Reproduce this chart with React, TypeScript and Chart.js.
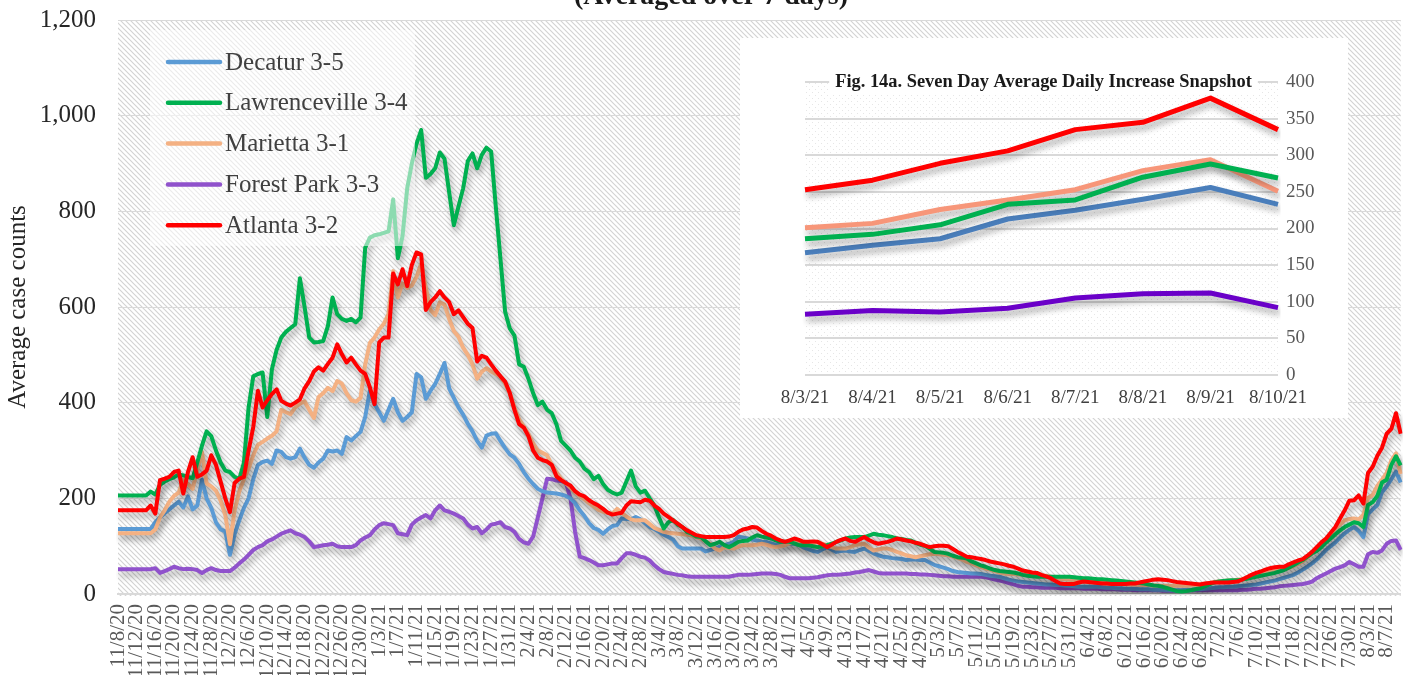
import React, { useEffect, useRef } from "react";
import { Chart, registerables } from "chart.js";

Chart.register(...registerables);

const FONT = "'Liberation Serif', 'Times New Roman', serif";

// ---------- categories ----------
const START_YEAR = 2020;
const START_MONTH = 10; // November (0-based)
const START_DAY = 8;
const DAY_COUNT = 276;

function buildDates(): string[] {
  const out: string[] = [];
  for (let i = 0; i < DAY_COUNT; i++) {
    const d = new Date(Date.UTC(START_YEAR, START_MONTH, START_DAY + i));
    out.push(`${d.getUTCMonth() + 1}/${d.getUTCDate()}/${String(d.getUTCFullYear()).slice(2)}`);
  }
  return out;
}
const DATES = buildDates();

const SERIES_NAMES = ["Decatur 3-5", "Lawrenceville 3-4", "Marietta 3-1", "Forest Park 3-3", "Atlanta 3-2"];

// ---------- main series (7-day averages) ----------
const DECATUR = [
  136, 136, 136, 136, 136, 136, 136, 136, 150, 160,
  169, 177, 185, 193, 181, 204, 177, 185, 239, 200,
  180, 150, 135, 131, 82, 125, 154, 180, 200, 240,
  270, 276, 279, 272, 300, 297, 286, 283, 286, 304,
  285, 270, 264, 275, 283, 300, 298, 300, 293, 328,
  321, 330, 339, 370, 425, 397, 380, 362, 385, 408,
  380, 362, 370, 380, 460, 453, 408, 425, 439, 460,
  483, 430, 410, 390, 375, 356, 340, 320, 306, 331,
  335, 336, 320, 305, 292, 285, 272, 255, 241, 230,
  220, 215, 212, 211, 210, 208, 205, 200, 190, 175,
  163, 148, 138, 134, 126, 135, 142, 144, 158, 157,
  156, 161, 156, 148, 140, 136, 130, 124, 119, 114,
  100, 95, 95, 95, 95, 95, 89, 92, 95, 99,
  102, 105, 109, 120, 118, 116, 114, 112, 110, 109,
  106, 103, 104, 105, 105, 105, 103, 97, 94, 90,
  88, 93, 98, 93, 88, 90, 91, 89, 88, 92,
  95, 90, 85, 81, 78, 77, 75, 74, 73, 71,
  72, 72, 71, 71, 66, 61, 58, 55, 52, 48,
  46, 45, 44, 43, 43, 42, 40, 38, 37, 36,
  33, 30, 28, 26, 25, 24, 23, 22, 21, 20,
  20, 19, 19, 18, 17, 16, 15, 15, 15, 15,
  15, 14, 13, 13, 12, 12, 11, 11, 11, 10,
  10, 10, 9, 9, 9, 8, 8, 8, 8, 9,
  9, 10, 10, 11, 12, 13, 14, 14, 15, 15,
  16, 17, 18, 19, 20, 22, 24, 26, 28, 31,
  34, 37, 40, 45, 51, 57, 64, 72, 82, 92,
  100, 108, 118, 127, 134, 140, 132, 119, 167, 177,
  186, 213, 225, 240, 256, 233,
];

const LAWRENCEVILLE = [
  206, 206, 206, 206, 206, 206, 206, 214, 208, 228,
  235, 240, 244, 250, 248, 245, 242, 275, 310, 340,
  330, 300, 275, 258, 255, 245, 240, 275, 390, 455,
  460, 463, 370, 470, 510, 536, 548, 556, 564, 660,
  600, 536, 526, 527, 529, 560, 620, 585, 575, 571,
  575, 568, 578, 724, 745, 750, 752, 755, 758, 825,
  702, 748, 848, 900, 941, 970, 870, 878, 890, 923,
  910, 840, 771, 810, 848, 905, 921, 890, 918, 933,
  925, 810, 700, 590, 555, 540, 480, 475, 450, 420,
  395, 402, 385, 378, 355, 320, 310, 300, 285, 277,
  262, 255, 240, 247, 230, 218, 212, 208, 212, 235,
  258, 225, 212, 216, 200, 185, 160, 137, 150, 155,
  145, 140, 130, 126, 120, 119, 110, 102, 105, 109,
  102, 98, 103, 109, 111, 112, 118, 123, 120, 118,
  116, 112, 109, 109, 109, 106, 102, 102, 102, 100,
  98, 100, 102, 105, 109, 112, 116, 118, 119, 119,
  119, 122, 126, 124, 123, 121, 119, 116, 115, 113,
  112, 107, 103, 101, 95, 88, 87, 86, 84, 80,
  77, 76, 74, 68, 64, 60, 57, 53, 50, 48,
  47, 46, 45, 43, 40, 38, 37, 36, 36, 36,
  36, 36, 36, 36, 36, 35, 34, 33, 33, 32,
  31, 31, 30, 29, 28, 27, 26, 25, 24, 23,
  22, 20, 18, 17, 15, 12, 9, 6, 5, 6,
  8, 10, 12, 16, 20, 24, 26, 27, 28, 29,
  29, 30, 32, 34, 36, 38, 40, 42, 44, 47,
  50, 55, 60, 66, 71, 78, 85, 90, 98, 108,
  116, 125, 133, 140, 145, 150, 148, 140, 186, 192,
  205, 233, 239, 270, 288, 269,
];

const MARIETTA = [
  127, 127, 127, 127, 127, 127, 127, 127, 135, 160,
  175, 193, 205, 212, 239, 230, 220, 260, 297, 231,
  225, 216, 195, 165, 104, 175, 215, 240, 262, 290,
  312, 318, 325, 331, 340, 385, 380, 376, 390, 398,
  403, 385, 368, 412, 420, 431, 424, 445, 440, 420,
  405, 402, 410, 480, 525, 536, 553, 565, 585, 675,
  620, 649, 640, 645, 663, 690, 640, 594, 583, 610,
  605, 575, 550, 538, 515, 500, 480, 450, 465, 472,
  465, 460, 455, 440, 420, 390, 365, 350, 335, 315,
  300, 295, 290, 270, 255, 241, 232, 222, 213, 205,
  198, 190, 183, 176, 172, 170, 168, 178, 170, 162,
  156, 154, 154, 154, 146, 138, 134, 130, 128, 127,
  126, 125, 124, 122, 119, 116, 110, 105, 95, 91,
  98, 96, 95, 99, 102, 102, 102, 103, 105, 103,
  100, 98, 100, 102, 106, 109, 106, 103, 102, 106,
  109, 105, 102, 98, 95, 95, 95, 98, 102, 104,
  105, 97, 91, 93, 95, 95, 92, 88, 85, 81,
  79, 77, 79, 81, 83, 84, 83, 82, 81, 78,
  75, 72, 67, 64, 60, 56, 53, 51, 48, 45,
  43, 42, 42, 41, 40, 40, 39, 39, 38, 38,
  36, 34, 32, 31, 30, 29, 28, 27, 26, 25,
  24, 23, 22, 22, 21, 21, 21, 20, 20, 19,
  19, 19, 18, 18, 17, 17, 17, 17, 17, 17,
  18, 19, 20, 21, 23, 25, 26, 27, 28, 29,
  30, 31, 32, 35, 39, 42, 44, 46, 48, 50,
  51, 54, 58, 63, 68, 76, 85, 93, 103, 114,
  125, 136, 145, 154, 157, 158, 156, 165, 201, 207,
  226, 239, 253, 279, 294, 251,
];

const FOREST_PARK = [
  52, 52, 52, 52, 52, 52, 52, 52, 54, 44,
  48, 52, 57, 54, 52, 53, 52, 50, 44, 50,
  54, 50, 48, 48, 48, 55, 64, 72, 82, 92,
  98, 102, 110, 114, 120, 126, 130, 133, 127, 124,
  119, 110, 98, 100, 102, 103, 105, 100, 98, 98,
  98, 102, 112, 118, 123, 135, 144, 148, 146, 144,
  127, 125, 123, 145, 154, 160, 165, 158, 175, 185,
  175, 172, 168, 163, 158, 145, 137, 140, 127, 135,
  145, 147, 150, 140, 137, 130, 115, 108, 105, 120,
  160, 200, 241, 240, 237, 236, 234, 200, 130, 78,
  75, 71, 66, 60, 60, 62, 64, 64, 75, 85,
  85, 82, 78, 76, 70, 60, 52, 46, 44, 42,
  40, 39, 37, 36, 36, 36, 36, 36, 36, 36,
  36, 36, 38, 40, 40, 40, 41, 42, 43, 43,
  43, 42, 40, 36, 33, 33, 33, 33, 33, 34,
  35, 37, 39, 40, 40, 41, 42, 43, 45, 46,
  48, 50, 47, 44, 43, 43, 43, 43, 43, 43,
  42, 42, 41, 41, 40, 39, 38, 37, 37, 36,
  36, 36, 36, 36, 36, 36, 35, 33, 30, 28,
  26, 23, 20, 17, 15, 15, 14, 14, 13, 13,
  13, 13, 12, 12, 12, 12, 12, 11, 11, 11,
  11, 10, 10, 10, 10, 9, 9, 9, 8, 8,
  8, 8, 8, 8, 7, 7, 7, 7, 7, 7,
  8, 8, 8, 8, 8, 8, 8, 8, 8, 8,
  8, 9, 9, 10, 11, 11, 12, 13, 14, 16,
  17, 18, 19, 20, 21, 23, 26, 33, 38, 43,
  48, 53, 56, 60, 67, 62, 57, 57, 83, 88,
  86, 91, 105, 111, 112, 92,
];

const ATLANTA = [
  175, 175, 175, 175, 175, 175, 175, 185, 168, 238,
  241, 245, 255, 258, 210, 255, 286, 245, 250, 258,
  290, 270, 235, 200, 171, 232, 241, 245, 300, 349,
  425, 390, 405, 418, 428, 404, 398, 394, 400, 407,
  430, 445, 465, 474, 467, 481, 494, 522, 501, 484,
  494, 480, 467, 460, 432, 397, 526, 536, 536, 670,
  647, 679, 644, 688, 714, 710, 594, 610, 620, 633,
  620, 610, 585, 593, 579, 565, 556, 486, 498, 494,
  480, 467, 455, 444, 420, 385, 355, 348, 330, 300,
  285, 280, 277, 270, 246, 238, 232, 227, 215, 208,
  204, 196, 190, 185, 178, 170, 166, 168, 170, 185,
  194, 193, 192, 197, 195, 185, 178, 168, 161, 154,
  147, 140, 133, 128, 123, 121, 119, 119, 119, 119,
  119, 120, 123, 130, 135, 137, 140, 139, 132, 126,
  122, 116, 112, 109, 112, 116, 113, 109, 109, 110,
  109, 104, 98, 103, 109, 113, 116, 111, 109, 114,
  119, 113, 108, 105, 107, 109, 112, 116, 114, 112,
  110, 107, 105, 101, 98, 100, 101, 101, 100, 94,
  88, 83, 78, 77, 75, 73, 71, 68, 66, 64,
  62, 59, 57, 53, 49, 47, 45, 44, 40, 37,
  33, 27, 22, 21, 21, 21, 24, 26, 25, 24,
  23, 22, 22, 21, 21, 21, 21, 22, 22, 24,
  26, 28, 30, 31, 30, 29, 27, 25, 24, 23,
  22, 21, 20, 22, 23, 24, 24, 24, 24, 25,
  26, 30, 35, 40, 44, 47, 51, 54, 56, 57,
  57, 62, 66, 70, 73, 80, 88, 98, 108, 116,
  128, 140, 158, 175, 195, 196, 206, 189, 253, 266,
  289, 306, 335, 345, 378, 335,
];

// ---------- inset (Fig. 14a) ----------
const INSET_DATES = ["8/3/21", "8/4/21", "8/5/21", "8/6/21", "8/7/21", "8/8/21", "8/9/21", "8/10/21"];
const INSET_DECATUR = [167, 177, 186, 213, 225, 240, 256, 233];
const INSET_LAWRENCEVILLE = [186, 192, 205, 233, 239, 270, 288, 269];
const INSET_MARIETTA = [201, 207, 226, 239, 253, 279, 294, 251];
const INSET_FOREST_PARK = [83, 88, 86, 91, 105, 111, 112, 92];
const INSET_ATLANTA = [253, 266, 289, 306, 335, 345, 378, 335];

const MAIN_TITLE_VISIBLE = "(Averaged over 7 days)";
const INSET_TITLE = "Fig. 14a. Seven Day Average Daily Increase Snapshot";
const Y_TITLE = "Average case counts";

// styling
const MAIN_COLORS = ["#5B9BD5", "#00B050", "#F4B183", "#9052CC", "#FF0000"];
const INSET_COLORS = ["#4A7EBB", "#00B050", "#F79679", "#6A00C8", "#FF0000"];
const DRAW_ORDER = [3, 1, 2, 4, 0];

function makeHatch(ctx: CanvasRenderingContext2D) {
  const s = 5;
  const c = document.createElement("canvas");
  c.width = s;
  c.height = s;
  const g = c.getContext("2d")!;
  g.strokeStyle = "#d3d3d3";
  g.lineWidth = 1.15;
  g.beginPath();
  for (const k of [-s, 0, s]) {
    g.moveTo(-1, -1 + k);
    g.lineTo(s + 1, s + 1 + k);
  }
  g.stroke();
  return ctx.createPattern(c, "repeat");
}

function makeDots(ctx: CanvasRenderingContext2D) {
  const s = 6;
  const c = document.createElement("canvas");
  c.width = s;
  c.height = s;
  const g = c.getContext("2d")!;
  g.fillStyle = "#e6e6e6";
  g.fillRect(0, 0, 1, 1);
  g.fillRect(3, 3, 1, 1);
  return ctx.createPattern(c, "repeat");
}

const backgroundPlugin = (kind: "hatch" | "dots") => ({
  id: "areaBg_" + kind,
  beforeDraw(chart: any) {
    const { ctx, chartArea } = chart;
    const p = kind === "hatch" ? makeHatch(ctx) : makeDots(ctx);
    ctx.save();
    ctx.fillStyle = p;
    const extra = kind === "hatch" ? 2 : 0;
    ctx.fillRect(chartArea.left, chartArea.top, chartArea.right - chartArea.left, chartArea.bottom - chartArea.top + extra);
    ctx.restore();
  },
});

const shadowPlugin = {
  id: "lineShadow",
  beforeDatasetsDraw(chart: any) {
    const ctx = chart.ctx;
    ctx.save();
    ctx.shadowColor = "rgba(0,0,0,0.32)";
    ctx.shadowBlur = 6;
    ctx.shadowOffsetX = 2;
    ctx.shadowOffsetY = 5;
  },
  afterDatasetsDraw(chart: any) {
    chart.ctx.restore();
  },
};

const legendPlugin = {
  id: "insideLegend",
  afterDraw(chart: any) {
    const ctx = chart.ctx;
    ctx.save();
    ctx.fillStyle = "rgba(255,255,255,0.55)";
    ctx.fillRect(150, 30, 265, 216);
    ctx.font = `25px ${FONT}`;
    ctx.textBaseline = "middle";
    chart.data.datasets.forEach((ds: any, row: number) => {
      const y = 62 + row * 40.8;
      ctx.strokeStyle = ds.borderColor;
      ctx.lineWidth = 4.5;
      ctx.lineCap = "round";
      ctx.beginPath();
      ctx.moveTo(168, y);
      ctx.lineTo(220, y);
      ctx.stroke();
      ctx.fillStyle = "#404040";
      ctx.fillText(ds.label, 225, y + 1);
    });
    ctx.restore();
  },
};

const mainTitlePlugin = {
  id: "mainTitle",
  afterDraw(chart: any) {
    const ctx = chart.ctx;
    ctx.save();
    ctx.font = `bold 28px ${FONT}`;
    ctx.fillStyle = "#1a1a1a";
    ctx.textAlign = "center";
    ctx.textBaseline = "alphabetic";
    ctx.fillText(MAIN_TITLE_VISIBLE, 711, 4);
    ctx.restore();
  },
};

const insetTitlePlugin = {
  id: "insetTitle",
  beforeDatasetsDraw(chart: any) {
    const ctx = chart.ctx;
    const cx = (chart.chartArea.left + chart.chartArea.right) / 2 + 2;
    const y = chart.chartArea.top;
    ctx.save();
    ctx.font = `bold 18.4px ${FONT}`;
    const w = ctx.measureText(INSET_TITLE).width;
    ctx.fillStyle = "#ffffff";
    ctx.fillRect(cx - w / 2 - 6, y - 12, w + 12, 24);
    ctx.fillStyle = "#1a1a1a";
    ctx.textAlign = "center";
    ctx.textBaseline = "middle";
    ctx.fillText(INSET_TITLE, cx, y);
    ctx.restore();
  },
};

export default function App() {
  const mainRef = useRef<HTMLCanvasElement | null>(null);
  const insetRef = useRef<HTMLCanvasElement | null>(null);

  useEffect(() => {
    if (!mainRef.current || !insetRef.current) return;
    const mainSeries = [DECATUR, LAWRENCEVILLE, MARIETTA, FOREST_PARK, ATLANTA];
    const insetSeries = [INSET_DECATUR, INSET_LAWRENCEVILLE, INSET_MARIETTA, INSET_FOREST_PARK, INSET_ATLANTA];

    const main = new Chart(mainRef.current, {
      type: "line",
      data: {
        labels: DATES,
        datasets: mainSeries.map((d, k) => ({
          label: SERIES_NAMES[k],
          data: d,
          borderColor: MAIN_COLORS[k],
          backgroundColor: MAIN_COLORS[k],
          borderWidth: 4,
          pointRadius: 0,
          tension: 0,
          fill: false,
          order: DRAW_ORDER[k],
          borderJoinStyle: "round",
        })),
      },
      options: {
        animation: false,
        responsive: false,
        maintainAspectRatio: false,
        events: [],
        layout: { padding: { top: 20, right: 12, left: 0, bottom: 0 } },
        plugins: { legend: { display: false }, tooltip: { enabled: false }, title: { display: false } },
        scales: {
          x: {
            grid: { display: false, drawTicks: false },
            border: { display: true, color: "#d9d9d9", width: 2 },
            ticks: {
              autoSkip: false,
              maxRotation: 90,
              minRotation: 90,
              padding: 10,
              color: "#595959",
              font: { family: FONT, size: 21 },
              callback: (_v: any, i: number) => (i % 4 === 0 ? DATES[i] : null),
            },
            afterFit: (s: any) => {
              s.height = 81;
            },
          },
          y: {
            min: 0,
            max: 1200,
            ticks: {
              stepSize: 200,
              padding: 22,
              color: "#262626",
              font: { family: FONT, size: 25 },
              callback: (v: any) => Number(v).toLocaleString("en-US"),
            },
            grid: { color: "#d9d9d9", lineWidth: 1, drawTicks: false },
            border: { display: false },
            title: {
              display: true,
              text: Y_TITLE,
              color: "#262626",
              font: { family: FONT, size: 25 },
              padding: { top: 3, bottom: 0 },
            },
            afterFit: (s: any) => {
              s.width = 118;
              s.paddingTop = 0;
              s.paddingBottom = 0;
            },
          },
        },
      },
      plugins: [backgroundPlugin("hatch"), shadowPlugin, legendPlugin, mainTitlePlugin],
    } as any);

    const inset = new Chart(insetRef.current, {
      type: "line",
      data: {
        labels: INSET_DATES,
        datasets: insetSeries.map((d, k) => ({
          label: SERIES_NAMES[k],
          data: d,
          borderColor: INSET_COLORS[k],
          borderWidth: 5,
          pointRadius: 0,
          tension: 0,
          fill: false,
          order: DRAW_ORDER[k],
          borderJoinStyle: "round",
        })),
      },
      options: {
        animation: false,
        responsive: false,
        maintainAspectRatio: false,
        events: [],
        layout: { padding: { top: 44, right: 0, left: 65, bottom: 0 } },
        plugins: { legend: { display: false }, tooltip: { enabled: false }, title: { display: false } },
        scales: {
          x: {
            grid: { display: false, drawTicks: false },
            border: { display: false },
            ticks: { maxRotation: 0, minRotation: 0, padding: 12, color: "#404040", font: { family: FONT, size: 19 } },
            afterFit: (s: any) => {
              s.height = 43;
            },
          },
          y: {
            position: "right",
            min: 0,
            max: 400,
            ticks: { stepSize: 50, padding: 8, color: "#595959", font: { family: FONT, size: 19 } },
            grid: { color: "#d9d9d9", lineWidth: 2, drawTicks: false },
            border: { display: false },
            afterFit: (s: any) => {
              s.width = 70;
            },
          },
        },
      },
      plugins: [backgroundPlugin("dots"), insetTitlePlugin, shadowPlugin],
    } as any);

    return () => {
      main.destroy();
      inset.destroy();
    };
  }, []);

  return (
    <div style={{ position: "absolute", left: 0, top: 0, width: 1422, height: 675, background: "#ffffff", overflow: "hidden" }}>
      <canvas ref={mainRef} width={1422} height={675} style={{ display: "block", position: "absolute", left: 0, top: 0 }} />
      <div style={{ position: "absolute", left: 740, top: 38, width: 608, height: 380, background: "#ffffff" }}>
        <canvas ref={insetRef} width={608} height={380} style={{ display: "block" }} />
      </div>
    </div>
  );
}
